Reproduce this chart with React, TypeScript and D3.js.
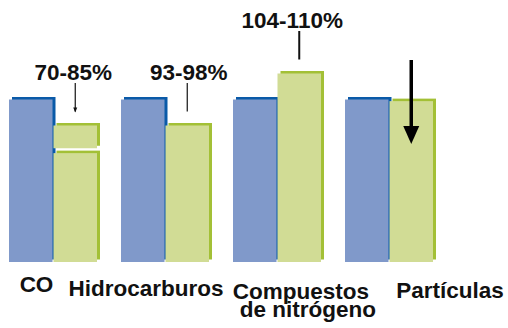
import React from "react";
import * as d3 from "d3";

// ---- data ----
const categories = ["CO", "Hidrocarburos", "Compuestos de nitrógeno", "Partículas"];
const categoryLines = [["CO"], ["Hidrocarburos"], ["Compuestos", "de nitrógeno"], ["Partículas"]];
const series = ["antes", "después"];
const baseValues = [100, 100, 100, 100];
const newValues = [67, 84, 116, 99];
const rangeLow: (number | null)[] = [70, null, null, null];
const rangeHigh: (number | null)[] = [84, null, null, null];
const percentLabels = ["70-85%", "93-98%", "104-110%", ""];

// ---- layout ----
const W = 508, H = 328;
const baseY = 262;
const topY = 99.5;
const labelDx = [-16, -18.5, 24.5, 61.5];
const labelLineDx = [[0], [0], [0, 7], [0]];
const labelBaselines = [[291.5], [296], [299, 317], [297.5]];
const pctDx = [-2, 1.5, -7, 0];

const C = {
  blue: "#8099ca",
  blueShadow: "#0a5aa8",
  green: "#d1dc95",
  greenShadow: "#a3c036",
};
const FONT = "'Liberation Sans', Arial, Helvetica, sans-serif";

export default function App() {
  const x = d3.scaleBand<string>().domain(categories).range([9, 432]).paddingInner(0.2232).paddingOuter(0);
  const xs = d3.scaleBand<string>().domain(series).range([0, x.bandwidth()]).padding(0);
  const y = d3.scaleLinear().domain([0, 100]).range([baseY, topY]);
  const sdx = 3, sdy = -2.5;

  const bar = (key: string, x0: number, w: number, v0: number, v1: number, fill: string, shadow: string) => (
    <g key={key}>
      <rect x={x0 + sdx} y={y(v1) + sdy} width={w} height={y(v0) - y(v1)} fill={shadow} />
      <rect x={x0} y={y(v1)} width={w} height={y(v0) - y(v1)} fill={fill} />
    </g>
  );

  return (
    <svg width={W} height={H} style={{ position: "absolute", left: 0, top: 0, background: "#fff" }}
      fontFamily={FONT}>
      <rect width={W} height={H} fill="#fff" />
      {categories.map((c, i) => {
        const bx = x(c)!;
        const b0 = bx + xs(series[0])!;
        const g0 = bx + xs(series[1])! + 1;
        const w = xs.bandwidth();
        const gc = g0 + w / 2;
        const topVal = rangeHigh[i] ?? newValues[i];
        const pctBase = y(topVal) - 46;
        return (
          <g key={c}>
            {bar("b", b0, w, 0, baseValues[i], C.blue, C.blueShadow)}
            {bar("g", g0, w, 0, newValues[i], C.green, C.greenShadow)}
            {rangeLow[i] != null && bar("r", g0, w, rangeLow[i]!, rangeHigh[i]!, C.green, C.greenShadow)}
            {percentLabels[i] && (
              <>
                <text x={gc + pctDx[i]} y={pctBase} textAnchor="middle" fontSize={22.5} fontWeight="bold" fill="#111">
                  {percentLabels[i]}
                </text>
                <line x1={gc} x2={gc} y1={pctBase + 3.5} y2={y(topVal) - 14}
                  stroke="#111" strokeWidth={i === 2 ? 2 : 1.2} />
                {i === 0 && (
                  <path d={`M${gc - 2},${y(topVal) - 18}L${gc + 2},${y(topVal) - 18}L${gc},${y(topVal) - 13}Z`} fill="#111" />
                )}
              </>
            )}
            {!percentLabels[i] && (
              <>
                <line x1={gc} x2={gc} y1={60} y2={128} stroke="#000" strokeWidth={3.5} />
                <path d={`M${gc - 8},${126}L${gc + 8},${126}L${gc},${144}Z`} fill="#000" />
              </>
            )}
            {categoryLines[i].map((ln, j) => (
              <text key={j} x={bx + x.bandwidth() / 2 + labelDx[i] + labelLineDx[i][j]} y={labelBaselines[i][j]}
                textAnchor="middle" fontSize={22.5} fontWeight="bold" fill="#111">
                {ln}
              </text>
            ))}
          </g>
        );
      })}
    </svg>
  );
}
